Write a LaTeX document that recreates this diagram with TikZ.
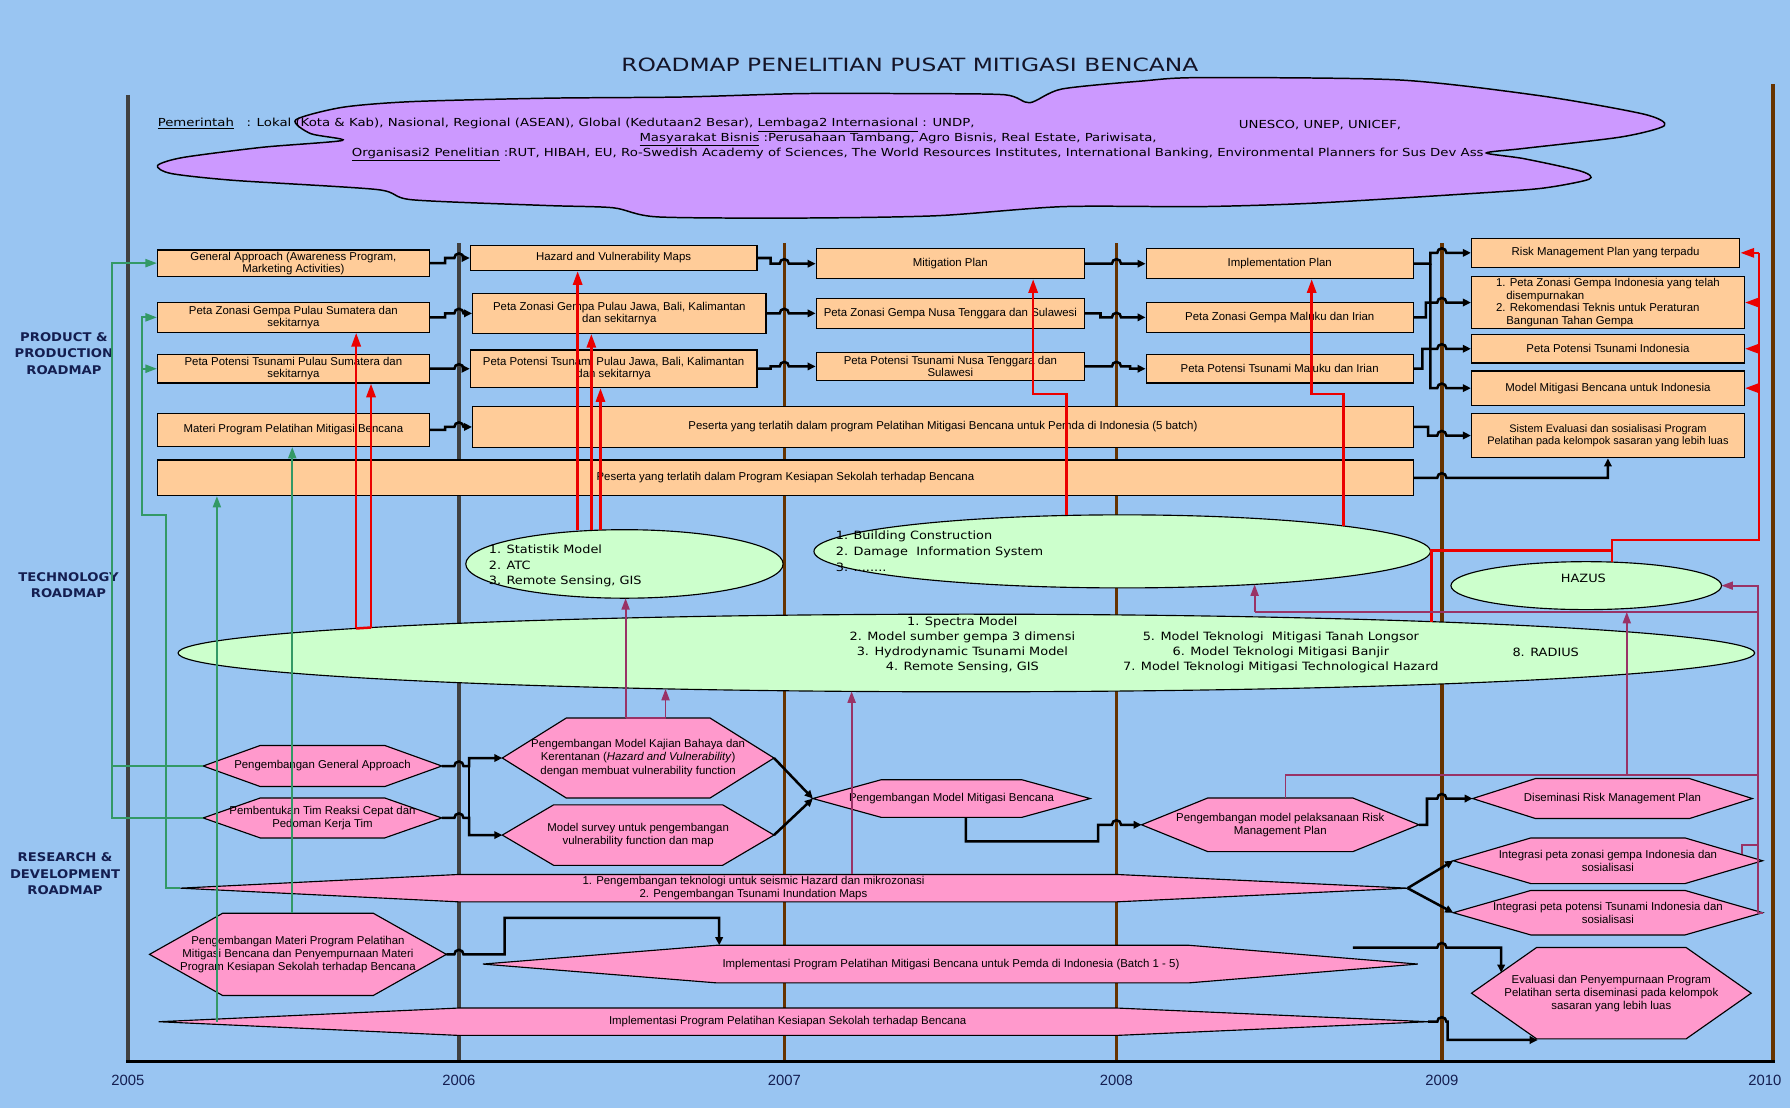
\documentclass[tikz,border=0pt]{standalone}
\usepackage{fontspec}
\setmainfont{Liberation Sans}
\newfontfamily\dv[FakeStretch=1.13]{DejaVu Sans}
\newfontfamily\cloudf[FakeStretch=1.2]{DejaVu Sans}
\newfontfamily\titlef[FakeStretch=1.28]{DejaVu Sans}
\newfontfamily\sidef[FakeStretch=1.1]{DejaVu Sans}
\usetikzlibrary{arrows.meta,shapes.geometric}
\pgfdeclarelayer{bg}
\pgfsetlayers{bg,main}
\definecolor{bgc}{RGB}{153,197,242}
\definecolor{boxc}{RGB}{255,204,153}
\definecolor{hexc}{RGB}{255,153,204}
\definecolor{ellc}{RGB}{204,255,204}
\definecolor{cloudc}{RGB}{204,153,255}
\definecolor{yrbrown}{RGB}{102,51,0}
\definecolor{yrgray}{RGB}{64,64,64}
\definecolor{navy}{RGB}{20,30,80}
\definecolor{titlec}{RGB}{20,20,40}
\definecolor{redc}{RGB}{235,0,0}
\definecolor{greenc}{RGB}{51,153,102}
\definecolor{purc}{RGB}{153,51,102}
% hexagon: name, cx, cy, half width, half height, inset, text
\newcommand\hexa[7]{%
  \filldraw[hexs] ({#2-#4},#3) -- ({#2-#4+#6},{#3-#5}) -- ({#2+#4-#6},{#3-#5}) -- ({#2+#4},#3) -- ({#2+#4-#6},{#3+#5}) -- ({#2-#4+#6},{#3+#5}) -- cycle;
  \node[htext, minimum width={2*#4}, minimum height={2*#5}] (#1) at (#2,#3) {#7};}
% wedge: name, tipL, bodyL, bodyR, tipR, cy, half height
\newcommand\wedgeshp[7]{%
  \filldraw[hexs] (#2,#6) -- (#3,{#6-#7}) -- (#4,{#6-#7}) -- (#5,#6) -- (#4,{#6+#7}) -- (#3,{#6+#7}) -- cycle;
  \node[anch, minimum width={#5-#2}, minimum height={2*#7}] (#1) at ({(#2+#5)/2},#6) {};}
\begin{document}
\begin{tikzpicture}[x=1pt,y=-1pt,
  pbox/.style={draw=black, line width=1.1pt, fill=boxc, inner sep=0pt, align=center, font=\fontsize{10}{10.5}\selectfont},
  hexs/.style={draw=black, line width=1pt, fill=hexc},
  htext/.style={inner sep=0pt, outer sep=0pt, align=center, font=\fontsize{10}{11.5}\selectfont},
  anch/.style={inner sep=0pt, outer sep=0pt},
  ell/.style={ellipse, draw=black, line width=1pt, fill=ellc, inner sep=0pt, outer sep=0pt},
  etext/.style={inner sep=0pt, font=\dv\fontsize{10}{13.5}\selectfont},
  ctext/.style={inner sep=0pt, font=\cloudf\fontsize{9.7}{11}\selectfont},
  side/.style={inner sep=0pt, align=center, text=navy, font=\sidef\bfseries\fontsize{10.5}{14.5}\selectfont},
  yr/.style={inner sep=0pt, text=navy, font=\fontsize{13}{14}\selectfont},
  yrl/.style={line width=3pt},
  blk/.style={draw=black, line width=2.2pt},
  blka/.style={blk, -{Triangle[length=7pt,width=6.5pt]}},
  redl/.style={draw=redc, line width=2.2pt},
  reda/.style={redl, -{Triangle[length=12pt,width=8pt]}},
  grnl/.style={draw=greenc, line width=1.8pt},
  grna/.style={grnl, -{Triangle[length=10pt,width=7pt]}},
  purl/.style={draw=purc, line width=1.6pt},
  pura/.style={purl, -{Triangle[length=10pt,width=7pt]}}]

\begin{pgfonlayer}{bg}
\fill[bgc] (0,0) rectangle (1568,971);
\draw[yrl, yrgray] (112,83) -- (112,930);
\draw[yrl, yrgray] (402,213) -- (402,930);
\draw[yrl, yrbrown] (687,213) -- (687,930);
\draw[yrl, yrbrown] (978,213) -- (978,930);
\draw[yrl, yrbrown] (1263,213) -- (1263,930);
\draw[yrl, yrbrown] (1553,74) -- (1553,930);
\draw[line width=3pt, black] (110.5,930) -- (1554.5,930);
\end{pgfonlayer}

% title and cloud
\node[inner sep=0pt, text=titlec, font=\titlef\fontsize{16}{18}\selectfont] (title) at (797,57) {ROADMAP PENELITIAN PUSAT MITIGASI BENCANA};
\filldraw[fill=cloudc, draw=black, line width=1.3pt] plot[smooth cycle, tension=0.45] coordinates {
 (259,105) (300,94) (361,89) (480,86) (596,85) (701,82) (800,82) (880,83) (902,90) (930,78) (1000,71) (1051,68) (1225,70) (1350,84) (1440,100) (1458,110) (1420,120) (1335,130) (1302,134) (1335,139) (1385,150) (1392,157) (1350,165) (1282,170) (1150,178) (1051,181) (931,181) (820,189) (701,191) (576,190) (537,182) (478,180) (361,175) (330,166) (205,158) (150,152) (138,145) (160,138) (230,129) (300,123) (272,117)};
\node[ctext, anchor=west] (c1) at (138,109.5) {\underline{Pemerintah}\ \ \ : Lokal (Kota \& Kab), Nasional, Regional (ASEAN), Global (Kedutaan2 Besar), \underline{Lembaga2 Internasional} : UNDP,};
\node[ctext, anchor=west] (c1b) at (1085,109.5) {UNESCO, UNEP, UNICEF,};
\node[ctext, anchor=west] (c2) at (560,122) {\underline{Masyarakat Bisnis} :Perusahaan Tambang, Agro Bisnis, Real Estate, Pariwisata,};
\node[ctext, anchor=west] (c3) at (308,135) {\underline{Organisasi2 Penelitian} :RUT, HIBAH, EU, Ro-Swedish Academy of Sciences, The World Resources Institutes, International Banking, Environmental Planners for Sus Dev Ass};

% side labels
\node[side] (lp) at (56,309.5) {PRODUCT \&\\PRODUCTION\\ROADMAP};
\node[side] (lt) at (60,512.5) {TECHNOLOGY\\ROADMAP};
\node[side] (lr) at (57,765.5) {RESEARCH \&\\DEVELOPMENT\\ROADMAP};

% year labels
\node[yr] (y5) at (112,946) {2005};
\node[yr] (y6) at (402,946) {2006};
\node[yr] (y7) at (687,946) {2007};
\node[yr] (y8) at (978,946) {2008};
\node[yr] (y9) at (1263,946) {2009};
\node[yr] (y10) at (1546,946) {2010};

% product boxes
\node[pbox, minimum width=238, minimum height=23] (bGA) at (257,230.5) {General Approach (Awareness Program,\\Marketing Activities)};
\node[pbox, minimum width=238, minimum height=26] (bZS) at (257,278) {Peta Zonasi Gempa Pulau Sumatera dan\\sekitarnya};
\node[pbox, minimum width=238, minimum height=25] (bPS) at (257,323) {Peta Potensi Tsunami Pulau Sumatera dan\\sekitarnya};
\node[pbox, minimum width=238, minimum height=29] (bMat) at (257,376.5) {Materi Program Pelatihan Mitigasi Bencana};
\node[pbox, minimum width=1100, minimum height=31] (bKes) at (688,418.5) {Peserta yang terlatih dalam Program Kesiapan Sekolah terhadap Bencana};
\node[pbox, minimum width=251, minimum height=22] (bHV) at (537.5,226) {Hazard and Vulnerability Maps};
\node[pbox, minimum width=257, minimum height=35] (bZJ) at (542.5,274.5) {Peta Zonasi Gempa Pulau Jawa, Bali, Kalimantan\\dan sekitarnya};
\node[pbox, minimum width=251, minimum height=33] (bPJ) at (537.5,323) {Peta Potensi Tsunami Pulau Jawa, Bali, Kalimantan\\dan sekitarnya};
\node[pbox, minimum width=824, minimum height=36] (bPem) at (826,374) {Peserta yang terlatih dalam program Pelatihan Mitigasi Bencana untuk Pemda di Indonesia (5 batch)};
\node[pbox, minimum width=235, minimum height=26] (bMP) at (832.5,231) {Mitigation Plan};
\node[pbox, minimum width=235, minimum height=26] (bZN) at (832.5,274.5) {Peta Zonasi Gempa Nusa Tenggara dan Sulawesi};
\node[pbox, minimum width=235, minimum height=25] (bPN) at (832.5,321) {Peta Potensi Tsunami Nusa Tenggara dan\\Sulawesi};
\node[pbox, minimum width=234, minimum height=26] (bIP) at (1121,231) {Implementation Plan};
\node[pbox, minimum width=234, minimum height=26] (bZM) at (1121,278) {Peta Zonasi Gempa Maluku dan Irian};
\node[pbox, minimum width=234, minimum height=25] (bPM) at (1121,323) {Peta Potensi Tsunami Maluku dan Irian};
\node[pbox, minimum width=235, minimum height=25] (bRM) at (1406.5,221.5) {Risk Management Plan yang terpadu};
\node[pbox, minimum width=239, minimum height=46, align=left, font=\fontsize{10}{11}\selectfont] (bZI) at (1408.5,265) {1. Peta Zonasi Gempa Indonesia yang telah\\\hspace*{9pt}disempurnakan\\2. Rekomendasi Teknis untuk Peraturan\\\hspace*{9pt}Bangunan Tahan Gempa};
\node[pbox, minimum width=239, minimum height=25] (bPI) at (1408.5,305.5) {Peta Potensi Tsunami Indonesia};
\node[pbox, minimum width=239, minimum height=30] (bMI) at (1408.5,340) {Model Mitigasi Bencana untuk Indonesia};
\node[pbox, minimum width=239, minimum height=39, font=\fontsize{9.6}{11}\selectfont] (bSE) at (1408.5,381.5) {Sistem Evaluasi dan sosialisasi Program\\Pelatihan pada kelompok sasaran yang lebih luas};

% technology ellipses
\node[ell, minimum width=278, minimum height=60] (E1) at (547,494) {};
\node[etext, anchor=west, align=left] (E1t) at (428,496) {1. Statistik Model\\2. ATC\\3. Remote Sensing, GIS};
\node[ell, minimum width=540, minimum height=64] (E2) at (983,483) {};
\node[etext, anchor=west, align=left, font=\dv\fontsize{10}{14}\selectfont] (E2t) at (732,483) {1. Building Construction\\2. Damage\ \ Information System\\3. ........};
\node[ell, minimum width=237, minimum height=42] (EH) at (1389.5,513) {};
\node[etext] (EHt) at (1387,507) {HAZUS};
\node[ell, minimum width=1381, minimum height=68] (EB) at (846.5,572) {};
\node[etext, align=center, font=\dv\fontsize{10}{13.3}\selectfont] (EBt1) at (843,565) {1. Spectra Model\\2. Model sumber gempa 3 dimensi\\3. Hydrodynamic Tsunami Model\\4. Remote Sensing, GIS};
\node[etext, align=center, font=\dv\fontsize{10}{13.5}\selectfont] (EBt2) at (1122,571.5) {5. Model Teknologi\ \ Mitigasi Tanah Longsor\\6. Model Teknologi Mitigasi Banjir\\7. Model Teknologi Mitigasi Technological Hazard};
\node[etext] (EBt3) at (1354,571) {8. RADIUS};
% points on the ellipse borders
\coordinate (ebS1) at (312,550.5);
\coordinate (ebS2) at (325,549.7);
\coordinate (ebR) at (1254,544.6);
\coordinate (ebP1) at (583,603.4);
\coordinate (ebP2) at (746,605.6);
\coordinate (e2R) at (1177,460.7);
\coordinate (e2P) at (1099,511.9);

% R&D hexagons
\hexa{hGA}{282.5}{671}{104.5}{18}{50}{Pengembangan General Approach}
\hexa{hTim}{282.5}{716.5}{104.5}{17.5}{50}{Pembentukan Tim Reaksi Cepat dan\\Pedoman Kerja Tim}
\hexa{hKaj}{559}{664}{119}{35}{56}{Pengembangan Model Kajian Bahaya dan\\Kerentanan (\textit{Hazard and Vulnerability})\\dengan membuat vulnerability function}
\hexa{hSur}{559}{731.5}{119}{26.5}{45}{Model survey untuk pengembangan\\vulnerability function dan map}
\hexa{hMit}{833.5}{699.5}{121.5}{16.5}{60}{Pengembangan Model Mitigasi Bencana}
\hexa{hPel}{1121.5}{722.5}{121.5}{23.5}{58}{Pengembangan model pelaksanaan Risk\\Management Plan}
\hexa{hDis}{1412.5}{699.5}{122.5}{17.5}{55}{Diseminasi Risk Management Plan}
\hexa{hIZ}{1408.5}{754}{135.5}{20}{68}{Integrasi peta zonasi gempa Indonesia dan\\sosialisasi}
\hexa{hIP}{1408.5}{799.5}{135.5}{19.5}{68}{Integrasi peta potensi Tsunami Indonesia dan\\sosialisasi}
\hexa{hEva}{1411.5}{870}{122.5}{40}{57}{Evaluasi dan Penyempurnaan Program\\Pelatihan serta diseminasi pada kelompok\\sasaran yang lebih luas}
\hexa{hMat}{261}{836}{130}{36}{64}{Pengembangan Materi Program Pelatihan\\Mitigasi Bencana dan Penyempurnaan Materi\\Program Kesiapan Sekolah terhadap Bencana}

% wedges
\wedgeshp{wA}{158}{402}{978}{1233}{778}{12}
\node[htext, font=\fontsize{10}{12}\selectfont] (wAt) at (660,778) {1. Pengembangan teknologi untuk seismic Hazard dan mikrozonasi\\2. Pengembangan Tsunami Inundation Maps};
\wedgeshp{wB}{423}{628}{1041}{1242}{844.5}{16.5}
\node[htext] (wBt) at (833,844.5) {Implementasi Program Pelatihan Mitigasi Bencana untuk Pemda di Indonesia (Batch 1 - 5)};
\wedgeshp{wC}{139}{402}{978}{1251}{895}{12}
\node[htext] (wCt) at (690,895) {Implementasi Program Pelatihan Kesiapan Sekolah terhadap Bencana};

% ---------- product connectors (black)
\draw[blka] (bGA.east) -- (390,230.5) -- (390,226) -- (398,226) arc[start angle=180,end angle=360,radius=4] -- (bHV.west);
\draw[blka] (bHV.east) -- (675,226) -- (675,231) -- (683,231) arc[start angle=180,end angle=360,radius=4] -- (bMP.west);
\draw[blka] (bMP.east) -- (974,231) arc[start angle=180,end angle=360,radius=4] -- (bIP.west);
\draw[blka] (bIP.east) -- (1253,231) -- (1253,221.5) -- (1259,221.5) arc[start angle=180,end angle=360,radius=4] -- (bRM.west);
\draw[blka] (bIP.east -| 1253,0) -- (1253,340) -- (1259,340) arc[start angle=180,end angle=360,radius=4] -- (bMI.west);
\draw[blka] (bZS.east) -- (390,278) -- (390,274.5) -- (398,274.5) arc[start angle=180,end angle=360,radius=4] -- (bZJ.west);
\draw[blka] (bZJ.east) -- (683,274.5) arc[start angle=180,end angle=360,radius=4] -- (bZN.west);
\draw[blka] (bZN.east) -- (964,274.5) -- (964,278) -- (974,278) arc[start angle=180,end angle=360,radius=4] -- (bZM.west);
\draw[blka] (bZM.east) -- (1249,278) -- (1249,265) -- (1259,265) arc[start angle=180,end angle=360,radius=4] -- (bZI.west);
\draw[blka] (bPS.east) -- (398,323) arc[start angle=180,end angle=360,radius=4] -- (bPJ.west);
\draw[blka] (bPJ.east) -- (675,323) -- (675,321) -- (683,321) arc[start angle=180,end angle=360,radius=4] -- (bPN.west);
\draw[blka] (bPN.east) -- (974,321) arc[start angle=180,end angle=360,radius=4] -- (990,321) -- (990,323) -- (bPM.west);
\draw[blka] (bPM.east) -- (1246,323) -- (1246,305.5) -- (1259,305.5) arc[start angle=180,end angle=360,radius=4] -- (bPI.west);
\draw[blka] (bMat.east) -- (390,376.5) -- (390,374) -- (398,374) arc[start angle=180,end angle=360,radius=4] -- (bPem.west);
\draw[blka] (bPem.east) -- (1251,374) -- (1251,381.5) -- (1259,381.5) arc[start angle=180,end angle=360,radius=4] -- (bSE.west);
\draw[blka] (bKes.east) -- (1259,418.5) arc[start angle=180,end angle=360,radius=4] -- (1408.5,418.5) -- (bSE.south);

% ---------- R&D connectors (black)
\draw[blka] (hGA.east) -- (398,671) arc[start angle=180,end angle=360,radius=4] -- (411,671) |- (hKaj.west);
\draw[blka] (hTim.east) -- (398,716.5) arc[start angle=180,end angle=360,radius=4] -- (411,716.5) |- (hSur.west);
\draw[blk] (411,670) -- (411,717.5);
\draw[blka] (hKaj.east) -- (hMit.west);
\draw[blka] (hSur.east) -- (hMit.west);
\draw[blka] (846,0 |- hMit.south) -- (846,737) -- (962,737) -- (962,722.5) -- (974,722.5) arc[start angle=180,end angle=360,radius=4] -- (hPel.west);
\draw[blka] (hPel.east) -- (1250,722.5) -- (1250,699.5) -- (1259,699.5) arc[start angle=180,end angle=360,radius=4] -- (hDis.west);
\draw[blka] (wA.east) -- (hIZ.west);
\draw[blka] (wA.east) -- (hIP.west);
\draw[blka] (hMat.east) -- (398,836) arc[start angle=180,end angle=360,radius=4] -- (442,836) -- (442,804) -- (630,804) -- (630,0 |- wB.north);
\coordinate (wBout) at (1185,830);
\coordinate (evain) at (1315,852);
\draw[blka] (wBout) -- (1259,830) arc[start angle=180,end angle=360,radius=4] -- (1315,830) -- (evain);
\draw[blka] (wC.east) -- (1259,895) arc[start angle=180,end angle=360,radius=4] -- (1268,895) -- (1268,911) -- (1347,911);

% ---------- red (technology -> product)
\draw[redl] (ebS1) -- (ebS2);
\draw[reda] (ebS1) -- (ebS1 |- bZS.south);
\draw[reda] (ebS2) -- (ebS2 |- bPS.south);
\draw[reda] (506,0 |- E1.north) -- (506,0 |- bHV.south);
\draw[reda] (518,0 |- E1.north) -- (518,0 |- bZJ.south);
\draw[reda] (526,0 |- E1.north) -- (526,0 |- bPJ.south);
\draw[reda] (934,0 |- E2.north) -- (934,345) -- (905,345) -- (905,0 |- bMP.south);
\draw[reda] (e2R) |- (1149,345) -- (1149,0 |- bIP.south);
\draw[redl] (ebR) -- (1254,482) -- (1412,482);
\draw[redl] (1412,0 |- EH.north) -- (1412,473) -- (1541,473) -- (1541,221.5);
\draw[reda] (1541,221.5) -- (bRM.east);
\draw[reda] (1541,265) -- (bZI.east);
\draw[reda] (1541,305.5) -- (bPI.east);
\draw[reda] (1541,340) -- (bMI.east);

% ---------- green (R&D -> product)
\draw[grna] (hTim.west) -| (98,230.5) -- (bGA.west);
\draw[grnl] (hGA.west) -- (98,0 |- hGA.west);
\draw[grna] (wA.west) -- (145,778) -- (145,451) -- (124,451) |- (bZS.west);
\draw[grna] (124,323) -- (bPS.west);
\draw[grna] (190,0 |- wC.center) -- (190,0 |- bKes.south);
\draw[grna] (256,0 |- hMat.north) -- (256,0 |- bMat.south);

% ---------- purple (R&D -> technology)
\draw[pura] (548,0 |- hKaj.north) -- (548,0 |- E1.south);
\draw[purl] (548,0 |- hKaj.north) -- (583,0 |- hKaj.north);
\draw[pura] (583,0 |- hKaj.north) -- (ebP1);
\draw[pura] (746,0 |- wA.north) -- (ebP2);
\draw[purl] (1126,0 |- hPel.north) -- (1126,679) -- (1540,679);
\draw[pura] (1425,679) -- (1425,536);
\draw[purl] (1099,536) -- (1540,536);
\draw[pura] (1099,536) -- (e2P);
\draw[pura] (hIP.east) -- (1540,799.5) -- (1540,513) -- (EH.east);
\draw[purl] (1526,748.5) -- (1526,740) -- (1540,740);
\end{tikzpicture}
\end{document}
